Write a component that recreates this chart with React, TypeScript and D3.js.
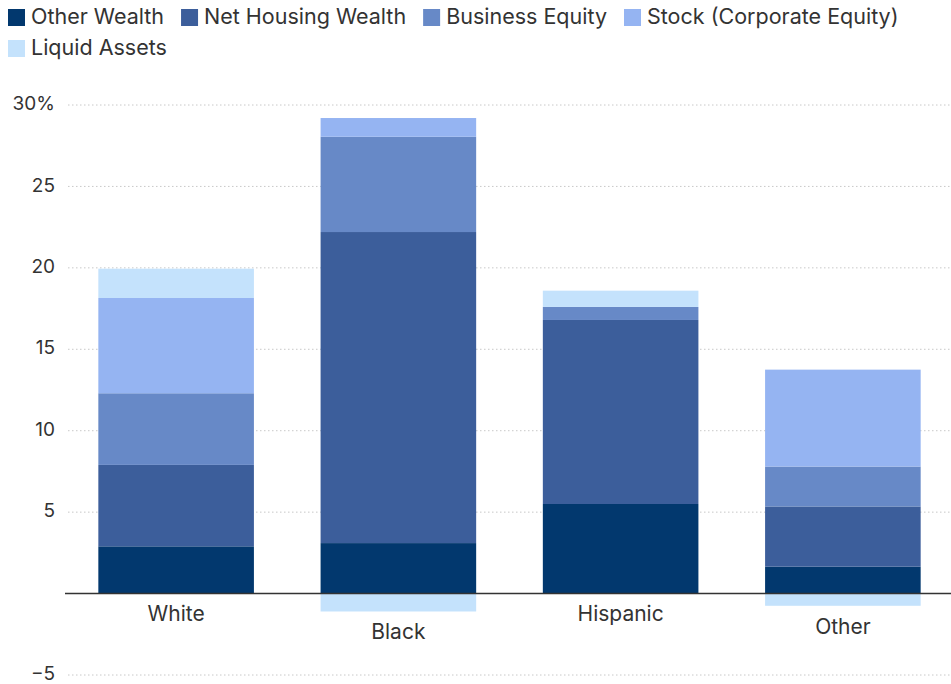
import { useEffect, useRef } from "react";
import * as d3 from "d3";

// data (percent)
const groups = ["White", "Black", "Hispanic", "Other"];
const seriesNames = [
  "Other Wealth",
  "Net Housing Wealth",
  "Business Equity",
  "Stock (Corporate Equity)",
  "Liquid Assets",
];
const otherWealth = [2.9, 3.1, 5.5, 1.65];
const netHousing = [5.0, 19.1, 11.3, 3.7];
const businessEquity = [4.4, 5.85, 0.8, 2.45];
const stockEquity = [5.85, 1.15, 0, 5.95];
const liquidAssets = [1.8, -1.1, 1.0, -0.75];
const colors = ["#02386e", "#3c5e9b", "#6789c7", "#95b4f2", "#c4e2fc"];
const yTicks = [-5, 5, 10, 15, 20, 25, 30];

const W = 951;
const H = 684;

export default function App() {
  const ref = useRef<SVGSVGElement | null>(null);

  useEffect(() => {
    document.body.style.margin = "0";
    const svg = d3.select(ref.current);
    svg.selectAll("*").remove();

    const font = "Inter, 'Open Sans', sans-serif";
    const textColor = "#333";

    const values = [otherWealth, netHousing, businessEquity, stockEquity, liquidAssets];
    const rows = groups.map((g, i) => {
      const row: any = { group: g };
      seriesNames.forEach((s, j) => (row[s] = values[j][i]));
      return row;
    });

    const x = d3
      .scaleBand()
      .domain(groups)
      .range([65, 954])
      .paddingInner(0.3)
      .paddingOuter(0.15);

    const y = d3.scaleLinear().domain([-5, 30]).range([675, 105]);

    // grid lines (dotted)
    svg
      .append("g")
      .selectAll("line")
      .data(yTicks)
      .join("line")
      .attr("x1", 68)
      .attr("x2", W)
      .attr("y1", (d) => y(d))
      .attr("y2", (d) => y(d))
      .attr("stroke", "#c8c8c8")
      .attr("stroke-width", 1)
      .attr("stroke-dasharray", "1.5,2.5");

    // tick labels
    svg
      .append("g")
      .selectAll("text")
      .data(yTicks)
      .join("text")
      .attr("x", 55)
      .attr("y", (d) => y(d))
      .attr("text-anchor", "end")
      .attr("dominant-baseline", "middle")
      .attr("font-family", font)
      .attr("font-size", 19)
      .attr("fill", textColor)
      .text((d) => (d === 30 ? "30%" : d < 0 ? "\u22125" : String(d)));

    // stacked bars
    const stack = d3
      .stack<any>()
      .keys(seriesNames)
      .offset(d3.stackOffsetDiverging);
    const stacked = stack(rows);

    svg
      .append("g")
      .selectAll("g")
      .data(stacked)
      .join("g")
      .attr("fill", (_d, i) => colors[i])
      .selectAll("rect")
      .data((d) => d)
      .join("rect")
      .attr("x", (d: any) => x(d.data.group)!)
      .attr("width", x.bandwidth())
      .attr("y", (d) => y(Math.max(d[0], d[1])))
      .attr("height", (d) => Math.abs(y(d[0]) - y(d[1])));

    // zero line
    svg
      .append("line")
      .attr("x1", 65)
      .attr("x2", W)
      .attr("y1", y(0))
      .attr("y2", y(0))
      .attr("stroke", "#333")
      .attr("stroke-width", 1.5);

    // category labels sit below the lowest part of each bar
    svg
      .append("g")
      .selectAll("text")
      .data(groups)
      .join("text")
      .attr("x", (g) => x(g)! + x.bandwidth() / 2)
      .attr("y", (_g, i) => {
        const neg = d3.min(values, (v) => Math.min(0, v[i])) ?? 0;
        return y(neg) + 22;
      })
      .attr("text-anchor", "middle")
      .attr("dominant-baseline", "middle")
      .attr("font-family", font)
      .attr("font-size", 21)
      .attr("fill", textColor)
      .text((g) => g);

    // legend, wrapped to the width
    const legend = svg.append("g");
    let lx = 8;
    let ly = 9;
    const box = 17;
    seriesNames.forEach((name, i) => {
      const item = legend.append("g");
      item
        .append("rect")
        .attr("width", box)
        .attr("height", box)
        .attr("fill", colors[i]);
      const t = item
        .append("text")
        .attr("x", box + 6)
        .attr("y", box / 2 + 1)
        .attr("dominant-baseline", "middle")
        .attr("font-family", font)
        .attr("font-size", 21.5)
        .attr("fill", textColor)
        .text(name);
      const w = box + 6 + (t.node() as SVGTextElement).getComputedTextLength();
      if (lx + w > 930 && lx > 8) {
        lx = 8;
        ly += 31;
      }
      item.attr("transform", `translate(${lx},${ly})`);
      lx += w + 17;
    });
  }, []);

  return <svg ref={ref} width={W} height={H} style={{ display: "block" }} />;
}
